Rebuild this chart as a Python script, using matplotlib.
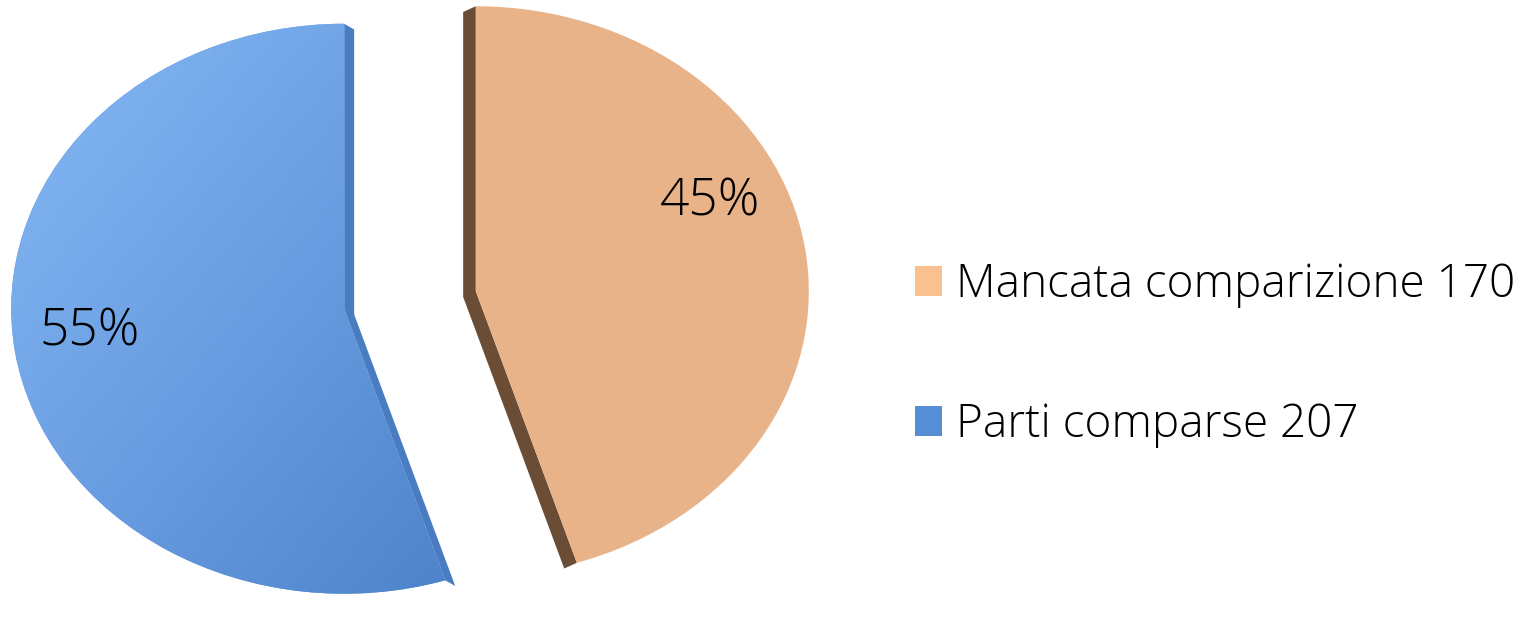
import numpy as np
import matplotlib
matplotlib.use("Agg")
from matplotlib import pyplot as plt
from matplotlib.patches import Patch, Polygon
from matplotlib.colors import LinearSegmentedColormap

#----------Data--------------------------------------
labels = ["Mancata comparizione", "Parti comparse"]
values = [170, 207]
top_colors = ["#E9B38A", "#6A9EE2"]
side_colors = ["#6B4D35", "#4A7CC2"]
legend_colors = ["#FAC090", "#558ED5"]
explode = [0.2, 0.2]

plt.rcParams["font.family"] = ["Open Sans", "DejaVu Sans"]

#----------Figure------------------------------------
fig = plt.figure(figsize=(15.33, 6.19), dpi=100)
ax = fig.add_axes([0, 0, 830 / 1533, 1])

wedges, _ = ax.pie(values, explode=explode, startangle=90, counterclock=False,
                   colors=top_colors, radius=1.0,
                   wedgeprops=dict(linewidth=0, zorder=3))
ax.set_aspect("auto")
xlim = (-410 / 333, 420 / 333)
ylim = (-(619 - 300) / 285, 300 / 285)
ax.axis("off")

# fake 3D side faces along the straight edges of each slice
offsets = [(-0.038, -0.02), (0.03, -0.02)]
for w, off, sc in zip(wedges, offsets, side_colors):
    cx, cy = w.center
    r = w.r
    t1, t2 = np.deg2rad(w.theta1), np.deg2rad(w.theta2)
    p1 = (cx + r * np.cos(t1), cy + r * np.sin(t1))
    p2 = (cx + r * np.cos(t2), cy + r * np.sin(t2))
    pts = [p1, (cx, cy), p2]
    poly = pts + [(x + off[0], y + off[1]) for x, y in pts[::-1]]
    ax.add_patch(Polygon(poly, closed=True, facecolor=sc, edgecolor="none", zorder=2))

# gradient on the blue slice: light top-left, darker bottom-right
blue = wedges[1]
cmap = LinearSegmentedColormap.from_list("b", ["#86BAF5", "#6A9EE2", "#4A80C8"])
gx, gy = np.meshgrid(np.linspace(0, 1, 200), np.linspace(0, 1, 200))
grad = (gx + gy) / 2
bx, by = blue.center
img = ax.imshow(grad, cmap=cmap, extent=(bx - 1.05, bx + 0.45, by - 1.05, by + 1.05),
                origin="upper", aspect="auto", zorder=3.5, interpolation="bilinear")
img.set_clip_path(blue)
ax.set_xlim(*xlim)
ax.set_ylim(*ylim)

# percentage labels
pct = [v / sum(values) * 100 for v in values]
label_angles = [24, -174]
label_dist = [0.77, 0.77]
for w, p, a, d in zip(wedges, pct, label_angles, label_dist):
    cx, cy = w.center
    ax.text(cx + d * np.cos(np.deg2rad(a)), cy + d * np.sin(np.deg2rad(a)),
            "%d%%" % round(p), ha="center", va="center",
            fontsize=37, fontweight="light", color="black", zorder=5)

#----------Legend------------------------------------
handles = [Patch(facecolor=c, edgecolor="none") for c in legend_colors]
texts = ["%s %d" % (l, v) for l, v in zip(labels, values)]
fig.legend(handles, texts, loc="center left", bbox_to_anchor=(892 / 1533, 1 - 355 / 619),
           frameon=False, handlelength=0.6, handleheight=0.65,
           handletextpad=0.3, labelspacing=2.05, borderpad=0,
           prop=dict(weight="light", size=33))

fig.savefig("out.png", dpi=100)
